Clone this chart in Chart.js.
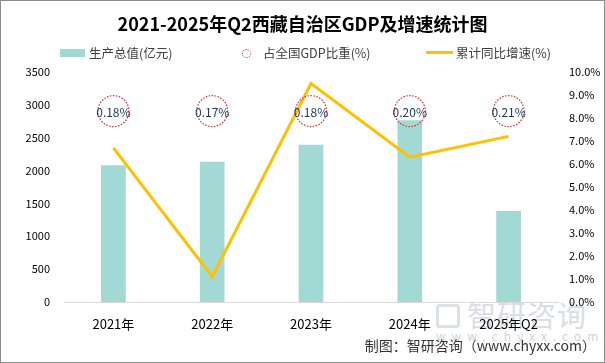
<!DOCTYPE html>
<html>
<head>
<meta charset="utf-8">
<script src="https://cdn.jsdelivr.net/npm/chart.js@4.4.1/dist/chart.umd.min.js"></script>
<style>
    body { margin: 0; background: #fff; }
    .box { position: relative; width: 603px; height: 361px; border: 1px solid #8c8c8c; overflow: hidden; font-family: "Noto Sans CJK SC", sans-serif; }
    .title { position: absolute; top: 9px; left: 0; width: 100%; text-align: center; font-size: 18px; font-weight: bold; color: #000; line-height: 26px; }
    .legend { position: absolute; top: 42px; left: 0; font-size: 12.5px; color: #404040; line-height: 20px; }
    .legend span { position: absolute; white-space: nowrap; }
    .watermark { position: absolute; left: 433px; top: 296px; color: #d9dde4; }
    .footer { position: absolute; right: 8px; top: 334px; font-size: 14px; color: #333; white-space: nowrap; }
    canvas { position: absolute; left: 0; top: 0; }
</style>
</head>
<body>
<div class="box">
    <div class="watermark">
        <div style="position:absolute;left:2px;top:7px;width:24px;height:24px;border:3px solid #dde1e8;border-radius:3px;box-sizing:border-box;"></div>
        <div style="position:absolute;left:33px;top:-4px;font-size:29px;letter-spacing:1px;white-space:nowrap;">智研咨询</div>
        <div style="position:absolute;left:2px;top:30px;font-size:12px;letter-spacing:6px;white-space:nowrap;color:#d0d4dc;">www.chyxx.com</div>
    </div>
    <canvas id="chart" width="603" height="361"></canvas>
    <div class="title">2021-2025年Q2西藏自治区GDP及增速统计图</div>
    <div class="legend">
        <span style="left:59px;top:6px;width:25px;height:8px;background:#a3d9d5;"></span>
        <span style="left:88px;top:0;">生产总值(亿元)</span>
        <span style="left:241px;top:6px;width:7px;height:7px;border:1px dotted #e0282e;border-radius:50%;"></span>
        <span style="left:262px;top:0;">占全国GDP比重(%)</span>
        <span style="left:425px;top:8px;width:27px;height:3px;background:#ffc000;"></span>
        <span style="left:455px;top:0;">累计同比增速(%)</span>
    </div>
    <div class="footer">制图：智研咨询（www.chyxx.com）</div>
</div>
<script>
const categories = ['2021年', '2022年', '2023年', '2024年', '2025年Q2'];
const gdpValues = [2080, 2133, 2393, 2765, 1383];
const growthValues = [6.7, 1.1, 9.5, 6.3, 7.2];
const shareValues = [0.18, 0.17, 0.18, 0.20, 0.21];
const leftTicks = [0, 500, 1000, 1500, 2000, 2500, 3000, 3500];
const rightTicks = [0, 1, 2, 3, 4, 5, 6, 7, 8, 9, 10];
// share circles sit in one row above the bars
const shareLevel = 0.83;

const tickFont = { family: '"Noto Sans CJK SC", sans-serif', size: 11 };

// dotted circles with the share labels
const shareCircles = {
    id: 'shareCircles',
    afterDatasetsDraw(chart) {
        const ctx = chart.ctx;
        const meta = chart.getDatasetMeta(2);
        ctx.save();
        meta.data.forEach((pt, i) => {
            ctx.beginPath();
            ctx.setLineDash([1.5, 1.5]);
            ctx.lineWidth = 1.2;
            ctx.strokeStyle = '#e0282e';
            ctx.arc(pt.x, pt.y, 15.5, 0, Math.PI * 2);
            ctx.stroke();
            ctx.setLineDash([]);
            ctx.fillStyle = '#1f3864';
            ctx.font = '12px "Noto Sans CJK SC", sans-serif';
            ctx.textAlign = 'center';
            ctx.textBaseline = 'middle';
            ctx.fillText(shareValues[i].toFixed(2) + '%', pt.x, pt.y + 1);
        });
        ctx.restore();
    }
};

new Chart(document.getElementById('chart'), {
    data: {
        labels: categories,
        datasets: [
            {
                type: 'line',
                data: growthValues,
                yAxisID: 'y1',
                borderColor: '#ffc000',
                borderWidth: 3,
                tension: 0,
                pointRadius: 0,
                order: 1
            },
            {
                type: 'bar',
                data: gdpValues,
                yAxisID: 'y',
                backgroundColor: '#a3d9d5',
                categoryPercentage: 1,
                barPercentage: 0.25,
                order: 2
            },
            {
                type: 'line',
                data: shareValues.map(() => shareLevel),
                yAxisID: 'y2',
                showLine: false,
                pointRadius: 0,
                order: 0
            }
        ]
    },
    options: {
        responsive: false,
        animation: false,
        events: [],
        layout: { padding: { top: 71, left: 0, right: 0, bottom: 0 } },
        plugins: { legend: { display: false }, tooltip: { enabled: false } },
        scales: {
            x: {
                grid: { display: false, drawTicks: false },
                border: { color: '#d9d9d9', width: 1 },
                ticks: { color: '#000', font: { family: '"Noto Sans CJK SC", sans-serif', size: 13 }, padding: 14 },
                afterFit: s => { s.height = 60; }
            },
            y: {
                position: 'left',
                min: 0,
                max: 3500,
                afterBuildTicks: s => { s.ticks = leftTicks.map(v => ({ value: v })); },
                grid: { display: false, drawTicks: false },
                border: { display: false },
                ticks: { color: '#000', font: tickFont, padding: 14, callback: v => String(v) },
                afterFit: s => { s.width = 63; }
            },
            y1: {
                position: 'right',
                min: 0,
                max: 10,
                afterBuildTicks: s => { s.ticks = rightTicks.map(v => ({ value: v })); },
                grid: { display: false, drawTicks: false },
                border: { display: false },
                ticks: { color: '#000', font: tickFont, padding: 11, callback: v => v.toFixed(1) + '%' },
                afterFit: s => { s.width = 46; }
            },
            y2: { display: false, min: 0, max: 1 }
        }
    },
    plugins: [shareCircles]
});
</script>
</body>
</html>
